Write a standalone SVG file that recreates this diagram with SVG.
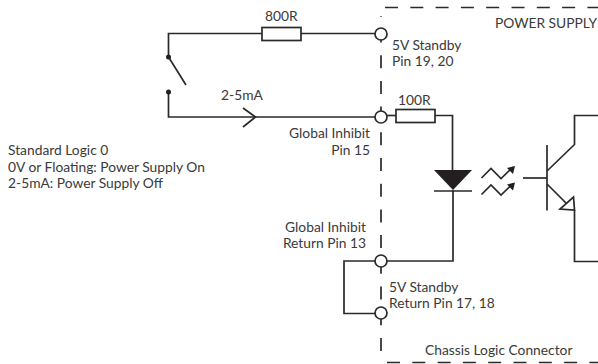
<svg xmlns="http://www.w3.org/2000/svg" width="598" height="364" viewBox="0 0 598 364">
<style>
text{font-family:"Lato","Liberation Sans",sans-serif;font-size:13.8px;fill:#3a3a3a}
.w{fill:none;stroke:#2b2a29;stroke-width:1.7}
.f{fill:#231f20;stroke:none}
.p{fill:#fff;stroke:#2b2a29;stroke-width:1.7}
.d{fill:none;stroke:#2b2a29;stroke-width:1.7}
.e{text-anchor:end}
</style>
<rect width="598" height="364" fill="#fff"/>
<g id="connector-boundary">
<path class="d" stroke-dasharray="13 12.7" stroke-dashoffset="12.2" d="M381 16V357"/>
<path class="d" stroke-dasharray="13 12.300" d="M385 7.500H598"/>
<path class="d" stroke-dasharray="13 12.300" d="M387 362.500H598"/>
</g>
<g id="connectors">
<path class="w" d="M262 33.500H168.500V57L186 85"/>
<path class="w" d="M301 33.500H375"/>
<path class="w" d="M168.500 92V117H375"/>
<path class="w" d="M243 108L255.500 117L243 127"/>
<path class="w" d="M387 115.500H396"/>
<path class="w" d="M435 115.500H452.500V171"/>
<path class="w" d="M453 190V261H387"/>
<path class="w" d="M375 261H344V313.500H375"/>
<path class="w" d="M481.500 178L491 168.500L501 178.500L513 167"/>
<path class="w" d="M481.500 194.500L491 185L501 195L513 183.500"/>
<path class="w" d="M598 115.500H574.500V144.500L547 171"/>
<path class="w" d="M523 178H547"/>
<path class="w" d="M547 184L567 204"/>
<path class="w" d="M574.500 210V261.500H598"/>
</g>
<g id="resistor-800r"><rect class="p" x="262" y="27.500" width="39" height="13"/><text x="265" y="21">800R</text></g>
<g id="switch"><circle class="f" cx="168.500" cy="57" r="2.500"/><circle class="f" cx="168.500" cy="92" r="2.500"/><text x="221" y="100">2-5mA</text></g>
<g id="pin-19-20"><circle class="p" cx="381" cy="34" r="6"/><text x="392" y="50">5V Standby</text><text x="392" y="66">Pin 19, 20</text></g>
<g id="pin-15"><circle class="p" cx="381" cy="117" r="6"/><text class="e" x="370" y="138">Global Inhibit</text><text class="e" x="370" y="155">Pin 15</text></g>
<g id="resistor-100r"><rect class="p" x="396" y="109.500" width="39" height="13"/><text x="398" y="105">100R</text></g>
<g id="pin-13"><circle class="p" cx="381" cy="261" r="6"/><text class="e" x="366" y="232">Global Inhibit</text><text class="e" x="366" y="248">Return Pin 13</text></g>
<g id="pin-17-18"><circle class="p" cx="381" cy="313" r="6"/><text x="389" y="292">5V Standby</text><text x="389" y="308">Return Pin 17, 18</text></g>
<g id="optocoupler-led"><path class="f" d="M434 170H472L453 190Z"/><path class="w" d="M434 191H472"/><path class="f" d="M515 166L507 168L513 174Z"/><path class="f" d="M515 182.500L507 184.500L513 190.500Z"/></g>
<g id="optocoupler-transistor"><path class="w" d="M547 145V210.500"/><path class="p" d="M573.500 197L574.500 210L560 209Z"/></g>
<g id="labels">
<text x="495" y="28">POWER SUPPLY</text>
<text x="425" y="355">Chassis Logic Connector</text>
<text x="8" y="155">Standard Logic 0</text>
<text x="8" y="172">0V or Floating: Power Supply On</text>
<text x="8" y="188">2-5mA: Power Supply Off</text>
</g>
</svg>
